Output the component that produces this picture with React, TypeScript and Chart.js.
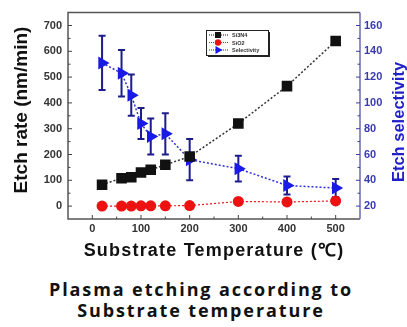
import React, { useEffect, useRef } from "react";
import { Chart, registerables } from "chart.js";

Chart.register(...registerables);

// Substrate temperature (°C) for each measurement
const temperatures = [20, 60, 80, 100, 120, 150, 200, 300, 400, 500];
// Etch rates (nm/min)
const si3n4Rate = [83, 108, 112, 130, 141, 160, 192, 320, 465, 640];
const si3n4Err = [0, 0, 0, 0, 0, 0, 0, 0, 6, 14];
const sio2Rate = [0, 0, 0, 1, 1, 1, 2, 18, 16, 20];
// Si3N4 / SiO2 etch selectivity
const selectivity = [131, 123, 106, 84, 74, 76, 56, 49, 36, 34];
const selectivityErr = [21, 18, 16, 12, 14, 16, 16, 10, 7, 7];

const seriesNames = ["Si3N4", "SiO2", "Selectivity"];
const xTickLabels = [0, 100, 200, 300, 400, 500];
const rateTickLabels = [0, 100, 200, 300, 400, 500, 600, 700];
const selTickLabels = [20, 40, 60, 80, 100, 120, 140, 160];

const xTitle = "Substrate Temperature (\u2103)";
const rateTitle = "Etch rate (nm/min)";
const selTitle = "Etch selectivity";
const captionLines = ["Plasma etching according to", "Substrate temperature"];

const BLACK = "#111111";
const RED = "#ee1111";
const BLUE = "#1a1ae6";
const BLUE_DARK = "#1c1c8c";
const AXIS_BLUE = "#3a3ab0";
const TICK_FONT = { family: "'Liberation Sans', Arial, sans-serif", size: 11, weight: "bold" as const };

const decorPlugin = {
  id: "decor",
  beforeDatasetsDraw(chart: any) {
    const { ctx, scales } = chart;
    const x = scales.x;
    const drawBars = (vals: number[], errs: number[], scale: any, color: string, width: number) => {
      ctx.save();
      ctx.strokeStyle = color;
      ctx.lineWidth = width;
      vals.forEach((v, i) => {
        const e = errs[i];
        if (!e) return;
        const px = x.getPixelForValue(temperatures[i]);
        const top = scale.getPixelForValue(v + e);
        const bot = scale.getPixelForValue(v - e);
        ctx.beginPath();
        ctx.moveTo(px, top);
        ctx.lineTo(px, bot);
        ctx.moveTo(px - 3.5, top);
        ctx.lineTo(px + 3.5, top);
        ctx.moveTo(px - 3.5, bot);
        ctx.lineTo(px + 3.5, bot);
        ctx.stroke();
      });
      ctx.restore();
    };
    drawBars(si3n4Rate, si3n4Err, scales.y, BLACK, 2);
    drawBars(selectivity, selectivityErr, scales.y1, BLUE_DARK, 2);
  },
  afterDraw(chart: any) {
    const { ctx, chartArea: a, scales } = chart;
    ctx.save();
    // frame
    ctx.lineWidth = 1.5;
    ctx.strokeStyle = "#555555";
    ctx.beginPath();
    ctx.moveTo(a.right, a.top);
    ctx.lineTo(a.left, a.top);
    ctx.lineTo(a.left, a.bottom);
    ctx.lineTo(a.right, a.bottom);
    ctx.stroke();
    ctx.strokeStyle = "#6a6ab0";
    ctx.beginPath();
    ctx.moveTo(a.right, a.top);
    ctx.lineTo(a.right, a.bottom);
    ctx.stroke();

    // inward tick marks
    ctx.lineWidth = 1;
    ctx.strokeStyle = "#444444";
    scales.x.ticks.forEach((t: any) => {
      if (t.value <= -50 || t.value >= 550) return;
      const major = t.value % 100 === 0;
      const px = scales.x.getPixelForValue(t.value);
      ctx.beginPath();
      ctx.moveTo(px, a.bottom);
      ctx.lineTo(px, a.bottom - (major ? 4 : 2.5));
      ctx.stroke();
    });
    scales.y.ticks.forEach((t: any) => {
      if (t.value <= -50 || t.value >= 750) return;
      const major = t.value % 100 === 0;
      const py = scales.y.getPixelForValue(t.value);
      ctx.beginPath();
      ctx.moveTo(a.left, py);
      ctx.lineTo(a.left + (major ? 4 : 2.5), py);
      ctx.stroke();
    });
    ctx.strokeStyle = AXIS_BLUE;
    scales.y1.ticks.forEach((t: any) => {
      if (t.value <= 10 || t.value >= 170) return;
      const major = t.value % 20 === 0;
      const py = scales.y1.getPixelForValue(t.value);
      ctx.beginPath();
      ctx.moveTo(a.right, py);
      ctx.lineTo(a.right - (major ? 4 : 2.5), py);
      ctx.stroke();
    });

    // axis titles
    ctx.textAlign = "center";
    ctx.textBaseline = "middle";
    ctx.fillStyle = "#111111";
    ctx.font = "bold 18px 'Liberation Sans', Arial, sans-serif";
    (ctx as any).letterSpacing = "1.2px";
    ctx.fillText(xTitle, (a.left + a.right) / 2, 251);
    (ctx as any).letterSpacing = "0px";

    ctx.save();
    ctx.translate(22, 110);
    ctx.rotate(-Math.PI / 2);
    ctx.font = "bold 19px 'Liberation Sans', Arial, sans-serif";
    ctx.fillText(rateTitle, 0, 0);
    ctx.restore();

    ctx.save();
    ctx.translate(399, 122);
    ctx.rotate(-Math.PI / 2);
    ctx.fillStyle = "#2020c8";
    ctx.font = "bold 16.5px 'Liberation Sans', Arial, sans-serif";
    ctx.fillText(selTitle, 0, 0);
    ctx.restore();

    // legend box
    const lx = 206, ly = 30, lw = 62, lh = 25;
    ctx.fillStyle = "#222222";
    ctx.fillRect(lx + 2, ly + 2, lw, lh);
    ctx.fillStyle = "#ffffff";
    ctx.fillRect(lx, ly, lw, lh);
    ctx.strokeStyle = "#222222";
    ctx.lineWidth = 1;
    ctx.strokeRect(lx + 0.5, ly + 0.5, lw, lh);
    const rows = [
      { c: BLACK, s: "rect" },
      { c: RED, s: "circle" },
      { c: BLUE, s: "triangle" },
    ];
    rows.forEach((r, i) => {
      const cy = ly + 5 + i * 7.5;
      ctx.strokeStyle = r.c;
      ctx.lineWidth = 1;
      ctx.setLineDash([1, 1]);
      ctx.beginPath();
      ctx.moveTo(lx + 3, cy);
      ctx.lineTo(lx + 22, cy);
      ctx.stroke();
      ctx.setLineDash([]);
      ctx.fillStyle = r.c;
      const mx = lx + 12;
      ctx.beginPath();
      if (r.s === "rect") ctx.rect(mx - 3, cy - 3, 6, 6);
      else if (r.s === "circle") ctx.arc(mx, cy, 3.2, 0, Math.PI * 2);
      else {
        ctx.moveTo(mx + 4.5, cy);
        ctx.lineTo(mx - 2.5, cy - 4);
        ctx.lineTo(mx - 2.5, cy + 4);
        ctx.closePath();
      }
      ctx.fill();
      ctx.fillStyle = "#333333";
      ctx.textAlign = "left";
      ctx.font = "bold 5.5px 'Liberation Sans', Arial, sans-serif";
      ctx.fillText(seriesNames[i], lx + 26, cy + 0.5);
    });
    ctx.restore();
  },
};

export default function App() {
  const canvasRef = useRef<HTMLCanvasElement | null>(null);

  useEffect(() => {
    const canvas = canvasRef.current;
    if (!canvas) return;
    const pts = (ys: number[]) => temperatures.map((t, i) => ({ x: t, y: ys[i] }));
    const chart = new Chart(canvas, {
      type: "line",
      data: {
        datasets: [
          {
            label: seriesNames[1],
            data: pts(sio2Rate),
            yAxisID: "y",
            borderColor: RED,
            backgroundColor: RED,
            borderDash: [2, 2],
            borderWidth: 1.2,
            pointStyle: "circle",
            pointRadius: 5.5,
            pointBorderWidth: 0,
          },
          {
            label: seriesNames[0],
            data: pts(si3n4Rate),
            yAxisID: "y",
            borderColor: "#333333",
            backgroundColor: BLACK,
            pointBorderColor: BLACK,
            borderDash: [2, 2],
            borderWidth: 1.5,
            pointStyle: "rect",
            pointRadius: 7.5,
            pointBorderWidth: 0,
          },
          {
            label: seriesNames[2],
            data: pts(selectivity),
            yAxisID: "y1",
            borderColor: "#3030d8",
            backgroundColor: BLUE,
            pointBorderColor: BLUE,
            borderDash: [2, 2],
            borderWidth: 1.5,
            pointStyle: "triangle",
            rotation: 90,
            pointRadius: 7.5,
            pointBorderWidth: 0,
          },
        ],
      },
      options: {
        responsive: false,
        animation: false,
        layout: { padding: { top: 11, left: 0, right: 0, bottom: 0 } },
        plugins: { legend: { display: false }, tooltip: { enabled: false } },
        scales: {
          x: {
            type: "linear",
            min: -50,
            max: 550,
            grid: { display: false, drawTicks: false },
            border: { display: false },
            ticks: {
              stepSize: 50,
              autoSkip: false,
              maxRotation: 0,
              padding: 3,
              color: "#333333",
              font: TICK_FONT,
              callback: (v: any) => (xTickLabels.includes(Number(v)) ? String(v) : ""),
            },
            afterFit: (s: any) => {
              s.height = 51;
            },
          },
          y: {
            type: "linear",
            position: "left",
            min: -50,
            max: 750,
            grid: { display: false, drawTicks: false },
            border: { display: false },
            ticks: {
              stepSize: 50,
              autoSkip: false,
              padding: 6,
              color: "#333333",
              font: TICK_FONT,
              callback: (v: any) => (rateTickLabels.includes(Number(v)) ? String(v) : ""),
            },
            afterFit: (s: any) => {
              s.width = 68;
            },
          },
          y1: {
            type: "linear",
            position: "right",
            min: 10,
            max: 170,
            grid: { display: false, drawTicks: false },
            border: { display: false },
            ticks: {
              stepSize: 10,
              autoSkip: false,
              padding: 4,
              color: AXIS_BLUE,
              font: TICK_FONT,
              callback: (v: any) => (selTickLabels.includes(Number(v)) ? String(v) : ""),
            },
            afterFit: (s: any) => {
              s.width = 47;
            },
          },
        },
      },
      plugins: [decorPlugin],
    });
    return () => chart.destroy();
  }, []);

  const captionStyle: React.CSSProperties = {
    position: "absolute",
    left: 0,
    width: 402,
    textAlign: "center",
    fontFamily: "'Open Sans', 'Noto Sans', sans-serif",
    fontWeight: 700,
    fontSize: 18,
    letterSpacing: "1.9px",
    lineHeight: "21px",
    color: "#111111",
    whiteSpace: "nowrap",
  };

  return (
    <div style={{ position: "absolute", left: 0, top: 0, width: 407, height: 327, background: "#ffffff", overflow: "hidden" }}>
      <canvas ref={canvasRef} width={407} height={270} style={{ position: "absolute", left: 0, top: 0 }} />
      <div style={{ ...captionStyle, top: 279 }}>{captionLines[0]}</div>
      <div style={{ ...captionStyle, top: 300 }}>{captionLines[1]}</div>
    </div>
  );
}
